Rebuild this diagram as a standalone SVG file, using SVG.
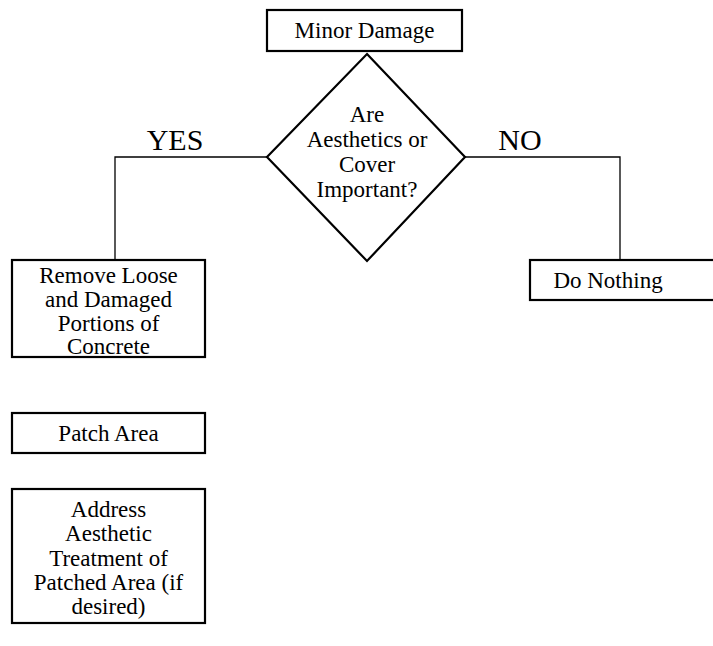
<svg xmlns="http://www.w3.org/2000/svg" width="713" height="646" viewBox="0 0 713 646">
<style>
.box{fill:#fff;stroke:#000;stroke-width:2.2}
.ln{fill:none;stroke:#000;stroke-width:1.3}
text{font-family:"Liberation Serif","Times New Roman",serif;font-size:23px;fill:#000;text-anchor:middle}
.big{font-size:30px}
</style>
<rect width="713" height="646" fill="#fff"/>
<g id="connectors">
<polyline class="ln" points="267,157 115,157 115,260"/>
<polyline class="ln" points="465,157 620,157 620,260"/>
<text class="big" x="175" y="150">YES</text>
<text class="big" x="520" y="150">NO</text>
</g>
<g id="minor">
<rect class="box" x="267" y="10" width="195" height="41"/>
<text x="364.5" y="38">Minor Damage</text>
</g>
<g id="decision">
<polygon class="box" points="367,54 465,157 367,261 267,157"/>
<text x="367" y="122">Are</text>
<text x="367" y="147">Aesthetics or</text>
<text x="367" y="172">Cover</text>
<text x="367" y="197">Important?</text>
</g>
<g id="remove">
<rect class="box" x="12" y="260" width="193" height="97"/>
<text x="108.5" y="283">Remove Loose</text>
<text x="108.5" y="307">and Damaged</text>
<text x="108.5" y="331">Portions of</text>
<text x="108.5" y="354">Concrete</text>
</g>
<g id="patch">
<rect class="box" x="12" y="413" width="193" height="40"/>
<text x="108.5" y="441">Patch Area</text>
</g>
<g id="address">
<rect class="box" x="12" y="489" width="193" height="134"/>
<text x="108.5" y="517">Address</text>
<text x="108.5" y="541">Aesthetic</text>
<text x="108.5" y="566">Treatment of</text>
<text x="108.5" y="590">Patched Area (if</text>
<text x="108.5" y="614">desired)</text>
</g>
<g id="nothing">
<rect class="box" x="530" y="260" width="190" height="40"/>
<text x="608" y="288">Do Nothing</text>
</g>
</svg>
